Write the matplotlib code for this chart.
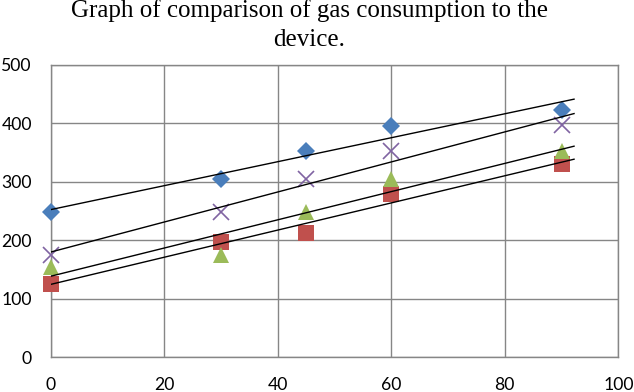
import numpy as np
import matplotlib
matplotlib.use("Agg")
import matplotlib.pyplot as plt

# data
x = [0, 30, 45, 60, 90]
series_blue = [248, 305, 353, 395, 423]
series_red = [125, 198, 213, 280, 330]
series_green = [155, 175, 248, 305, 353]
series_purple = [175, 248, 305, 353, 397]
title_lines = ["Graph of comparison of gas consumption to the", "device."]

fig = plt.figure(figsize=(6.34, 3.92), dpi=100)
ax = fig.add_axes([0.0797, 0.0885, 0.8956, 0.7457])

styles = [
    (series_blue, "D", "#4A7EBB", 9.5),
    (series_red, "s", "#C0504D", 11.5),
    (series_green, "^", "#9BBB59", 11),
    (series_purple, "x", "#8064A2", 11),
]

xfit = np.array([0, 92.2])
for ys, mk, col, ms in styles:
    if mk == "x":
        ax.plot(x, ys, linestyle="none", marker=mk, color=col, markersize=ms,
                markeredgewidth=1.2, zorder=3, clip_on=False)
    else:
        ax.plot(x, ys, linestyle="none", marker=mk, color=col, markersize=ms,
                markeredgewidth=0, zorder=3, clip_on=False)

# linear trendlines on top
for ys, mk, col, ms in styles:
    k, b = np.polyfit(x, ys, 1)
    ax.plot(xfit, k * xfit + b, color="black", linewidth=1.0, zorder=4)

ax.set_xlim(0, 100)
ax.set_ylim(0, 500)
ax.set_xticks(range(0, 101, 20))
ax.set_yticks(range(0, 501, 100))
ax.grid(True, color="#868686", linewidth=1)
ax.set_axisbelow(True)
for sp in ax.spines.values():
    sp.set_color("#868686")
    sp.set_linewidth(1)
ax.tick_params(length=0, labelsize=12.7, colors="black")
ax.tick_params(axis="y", pad=13.5)
ax.tick_params(axis="x", pad=14)
for lab in ax.get_xticklabels() + ax.get_yticklabels():
    lab.set_family("Lato")

fig.text(0.488, 0.9554, title_lines[0], ha="center", va="baseline",
         family="Liberation Serif", fontsize=18)
fig.text(0.488, 0.8834, title_lines[1], ha="center", va="baseline",
         family="Liberation Serif", fontsize=18)

fig.savefig("out.png", dpi=100)
